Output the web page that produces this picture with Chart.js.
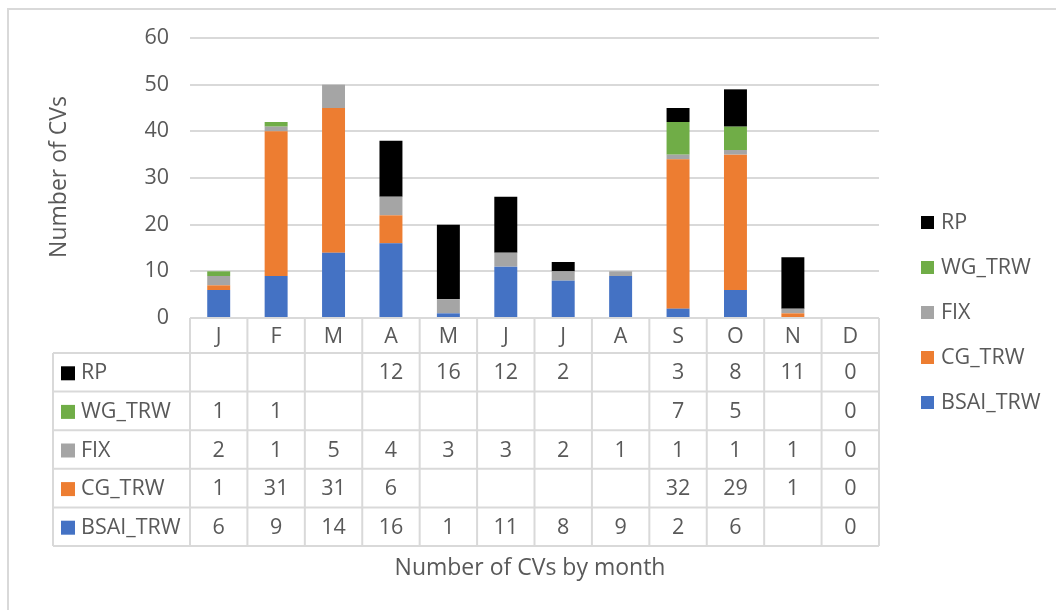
<!DOCTYPE html>
<html><head><meta charset="utf-8">
<script src="https://cdn.jsdelivr.net/npm/chart.js@4/dist/chart.umd.min.js"></script>
<style>html,body{margin:0;padding:0;background:#fff;}canvas{display:block;}</style>
</head><body>
<canvas id="c" width="1056" height="610"></canvas>
<script>
const months = ["J","F","M","A","M","J","J","A","S","O","N","D"];
const BSAI_TRW = [6,9,14,16,1,11,8,9,2,6,null,0];
const CG_TRW = [1,31,31,6,null,null,null,null,32,29,1,0];
const FIX = [2,1,5,4,3,3,2,1,1,1,1,0];
const WG_TRW = [1,1,null,null,null,null,null,null,7,5,null,0];
const RP = [null,null,null,12,16,12,2,null,3,8,11,0];
const yTicks = [0,10,20,30,40,50,60];
const yTitle = "Number of CVs";
const xTitle = "Number of CVs by month";

const FONT = '"Open Sans", sans-serif';
const TXT = '#595959';
const GRID = '#d9d9d9';
const FS = 21.5;
const TFS = 23;

const datasets = [
  {label:'BSAI_TRW', data:BSAI_TRW, backgroundColor:'#4472C4'},
  {label:'CG_TRW', data:CG_TRW, backgroundColor:'#ED7D31'},
  {label:'FIX', data:FIX, backgroundColor:'#A5A5A5'},
  {label:'WG_TRW', data:WG_TRW, backgroundColor:'#70AD47'},
  {label:'RP', data:RP, backgroundColor:'#000000'}
];
datasets.forEach(d=>{d.barPercentage=0.4; d.categoryPercentage=1.0; d.borderWidth=0;});

const tablePlugin = {
  id:'tablePlugin',
  afterDraw(chart){
    const ctx = chart.ctx;
    const x = chart.scales.x, ca = chart.chartArea;
    const n = months.length;
    const w = (ca.right - ca.left)/n;
    const rowsOrder = datasets.slice().reverse();
    const headerH = 35, rowH = 38.6;
    const top = ca.bottom;
    const tblLeft = 53;
    ctx.save();
    ctx.strokeStyle = GRID; ctx.lineWidth = 2;
    ctx.beginPath();
    ctx.moveTo(8, 610); ctx.lineTo(8, 9); ctx.lineTo(1056, 9);
    ctx.stroke();
    ctx.beginPath();
    ctx.moveTo(ca.left, top); ctx.lineTo(ca.right, top);
    for (let r=0; r<=rowsOrder.length; r++) {
      const y = top + headerH + r*rowH;
      ctx.moveTo(tblLeft, y); ctx.lineTo(ca.right, y);
    }
    const bottom = top + headerH + rowsOrder.length*rowH;
    ctx.moveTo(tblLeft, top+headerH); ctx.lineTo(tblLeft, bottom);
    for (let i=0; i<=n; i++) {
      const xx = ca.left + i*w;
      ctx.moveTo(xx, top); ctx.lineTo(xx, bottom);
    }
    ctx.stroke();
    ctx.fillStyle = TXT; ctx.font = FS + 'px ' + FONT;
    ctx.textAlign = 'center'; ctx.textBaseline = 'middle';
    months.forEach((m,i)=>{ ctx.fillText(m, x.getPixelForValue(i), top + headerH/2 + 1); });
    rowsOrder.forEach((ds,r)=>{
      const cy = top + headerH + r*rowH + rowH/2 + 1;
      ctx.fillStyle = ds.backgroundColor;
      ctx.fillRect(61, cy-7, 14, 14);
      ctx.fillStyle = TXT; ctx.textAlign = 'left';
      ctx.fillText(ds.label, 81, cy);
      ctx.textAlign = 'center';
      ds.data.forEach((v,i)=>{ if (v!==null && v!==undefined) ctx.fillText(String(v), x.getPixelForValue(i), cy); });
    });
    const legY = [223,268,313,358,403];
    rowsOrder.forEach((ds,r)=>{
      ctx.fillStyle = ds.backgroundColor;
      ctx.fillRect(921, legY[r]-7, 13, 13);
      ctx.fillStyle = TXT; ctx.textAlign = 'left';
      ctx.fillText(ds.label, 941, legY[r]);
    });
    ctx.font = TFS + 'px ' + FONT;
    ctx.textAlign = 'center';
    ctx.fillText(xTitle, 530, 568);
    ctx.translate(59, 177); ctx.rotate(-Math.PI/2);
    ctx.fillText(yTitle, 0, 0);
    ctx.restore();
  }
};

new Chart(document.getElementById('c'), {
  type:'bar',
  data:{labels:months, datasets},
  options:{
    responsive:false, animation:false,
    layout:{padding:{top:38, right:177, bottom:292, left:0}},
    plugins:{legend:{display:false}, tooltip:{enabled:false}},
    scales:{
      x:{stacked:true, display:false},
      y:{stacked:true, min:0, max:60,
         afterFit(s){ s.width = 190; },
         afterBuildTicks(s){ s.ticks = yTicks.map(v=>({value:v})); },
         ticks:{color:TXT, font:{family:FONT, size:FS}, padding:21},
         grid:{color:GRID, lineWidth:2, drawTicks:false},
         border:{display:false}
      }
    }
  },
  plugins:[tablePlugin]
});
</script>
</body></html>
